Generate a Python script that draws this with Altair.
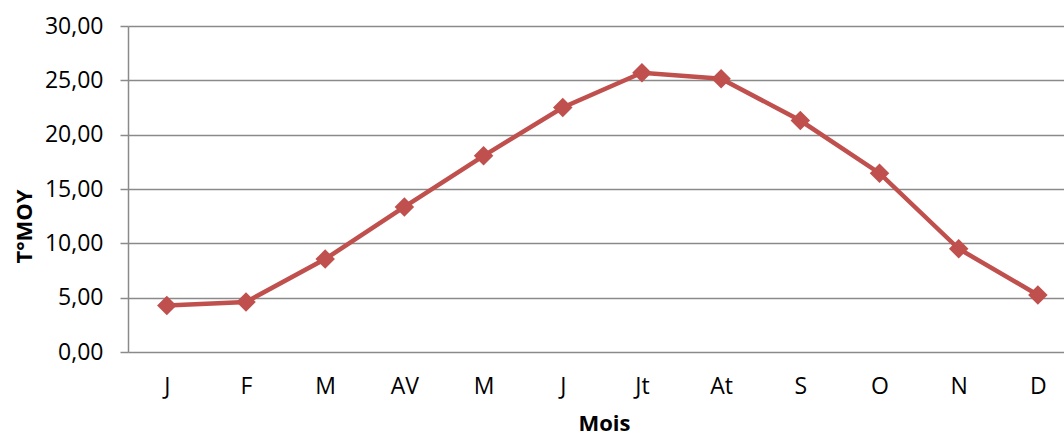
import altair as alt
import pandas as pd

months = ["J", "F", "M", "AV", "M", "J", "Jt", "At", "S", "O", "N", "D"]
tmoy = [4.27, 4.60, 8.55, 13.35, 18.05, 22.50, 25.70, 25.15, 21.30, 16.45, 9.50, 5.25]

df = pd.DataFrame({"idx": list(range(len(months))), "mois": months, "tmoy": tmoy})

label_arr = "[" + ",".join("'%s'" % m for m in months) + "]"
FONT = "Open Sans"
GRID = "#8a8a8a"
RED = "#C0504D"
FS = 23

x = alt.X(
    "idx:Q",
    scale=alt.Scale(domain=[-0.49, 11.33], nice=False, zero=False),
    axis=alt.Axis(
        title="Mois",
        values=list(range(12)),
        labelExpr=label_arr + "[datum.value]",
        grid=False,
        ticks=False,
        domain=False,
        labelFont=FONT,
        labelFontSize=FS,
        labelColor="#000000",
        labelPadding=23,
        titleFont=FONT,
        titleFontSize=22,
        titleFontWeight="bold",
        titleColor="#000000",
        titleX=476,
        titleY=78,
        titleBaseline="alphabetic",
    ),
)

y = alt.Y(
    "tmoy:Q",
    scale=alt.Scale(domain=[0, 30], nice=False),
    axis=alt.Axis(
        title="T°MOY",
        values=[0, 5, 10, 15, 20, 25, 30],
        labelExpr="replace(format(datum.value, '.2f'), '.', ',')",
        grid=True,
        gridColor=GRID,
        gridWidth=1.5,
        domain=True,
        domainColor=GRID,
        domainWidth=1.5,
        ticks=True,
        tickColor=GRID,
        tickWidth=1.5,
        tickSize=8,
        labelFont=FONT,
        labelFontSize=FS,
        labelColor="#000000",
        labelPadding=17,
        titleFont=FONT,
        titleFontSize=22,
        titleFontWeight="bold",
        titleColor="#000000",
        titleX=-104,
        titleY=200,
        titleAlign="center",
        titleBaseline="middle",
    ),
)

line = alt.Chart(df).mark_line(color=RED, strokeWidth=4.5).encode(x=x, y=y)
pts = alt.Chart(df).mark_point(
    shape="diamond", filled=True, color=RED, size=380, opacity=1
).encode(x=x, y=y)

chart = (
    alt.layer(line, pts)
    .properties(
        width=936,
        height=326,
        autosize=alt.AutoSizeParams(type="none"),
        padding={"left": 128, "top": 26, "right": 0, "bottom": 85},
        background="white",
    )
    .configure_view(stroke=None)
)

chart.save("out.html", embed_options={"renderer": "svg", "actions": False})
